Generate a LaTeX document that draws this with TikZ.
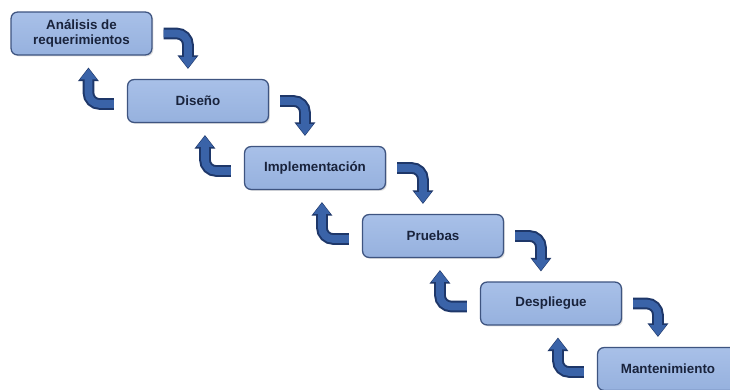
\documentclass[tikz,border=0pt]{standalone}
\usepackage{fontspec}
\setmainfont{Liberation Sans}
\usetikzlibrary{calc,arrows.meta,shadows}

\definecolor{boxfill}{RGB}{150,177,222}
\definecolor{boxtop}{RGB}{168,192,232}
\definecolor{boxline}{RGB}{62,84,128}
\definecolor{flowblue}{RGB}{58,99,168}
\definecolor{flowedge}{RGB}{30,55,105}
\definecolor{labelink}{RGB}{25,35,60}

\tikzset{
  stage/.style={draw=boxline, line width=0.9pt, rounded corners=4.5pt,
    top color=boxtop, bottom color=boxfill,
    drop shadow={shadow xshift=1pt, shadow yshift=-1pt, opacity=0.25},
    minimum width=3.52cm, minimum height=1.07cm, align=center,
    font=\fontsize{9.5}{10.5}\selectfont\bfseries, text=labelink},
  flowout/.style={draw=flowedge, line width=0.29cm, rounded corners=0.28cm,
    -{Triangle[width=0.5cm,length=0.34cm]}},
  flowin/.style={draw=flowblue, line width=0.19cm, rounded corners=0.28cm,
    -{Triangle[width=0.4cm,length=0.27cm]}}
}

\begin{document}
\begin{tikzpicture}[x=0.025cm, y=-0.025cm]
    \clip (0,0) rectangle (730,389);
    \fill[white] (0,0) rectangle (730,389);
    % stages
    \node[stage] (req) at (81.5,33.5) {Análisis de\\requerimientos};
    \node[stage] (dis) at (198,101) {Diseño};
    \node[stage] (imp) at (315,168) {Implementación};
    \node[stage] (pru) at (433,236) {Pruebas};
    \node[stage] (des) at (551,303.5) {Despliegue};
    \node[stage] (man) at (668,369) {Mantenimiento};
    % way down
    \foreach \a/\b in {req/dis, dis/imp, imp/pru, pru/des, des/man}{
        \draw[flowout] ($(\a.east)+(11,0)$) -| ($(\b.north west)+(61,-10)$);
        \draw[flowin] ($(\a.east)+(11,0)$) -| ($(\b.north west)+(61,-11)$);
    }
    % way back up
    \foreach \a/\b in {req/dis, dis/imp, imp/pru, pru/des, des/man}{
        \draw[flowout] ($(\b.west)+(-13,3)$) -| ($(\a.south west)+(78,12)$);
        \draw[flowin] ($(\b.west)+(-13,3)$) -| ($(\a.south west)+(78,13)$);
    }
\end{tikzpicture}
\end{document}
